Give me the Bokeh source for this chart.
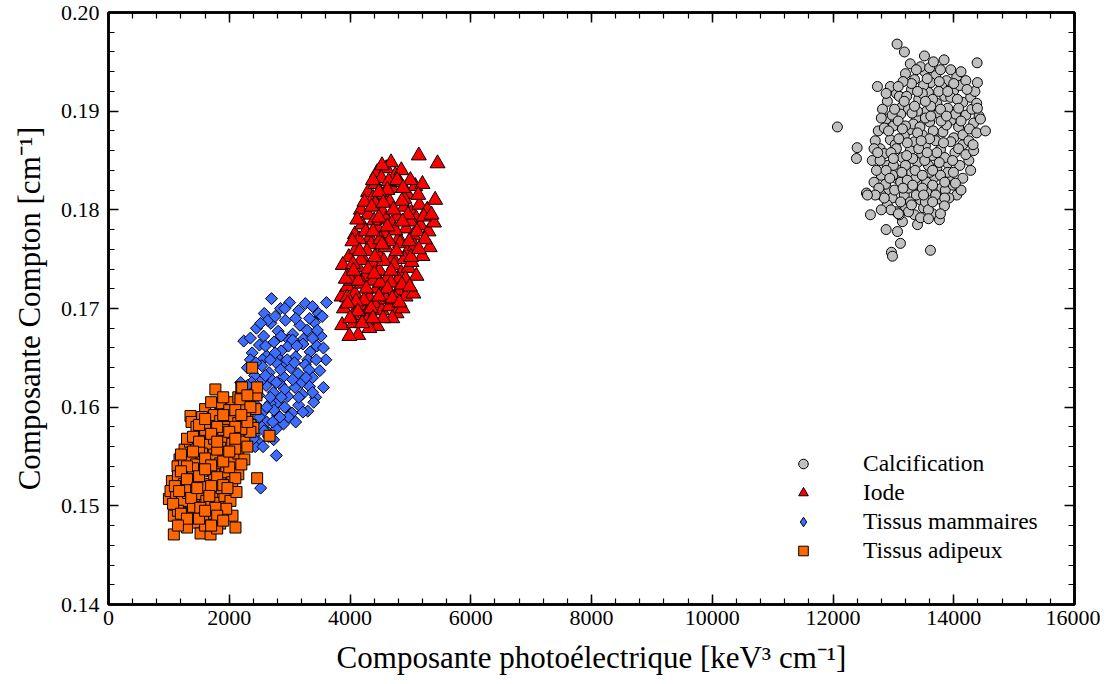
from bokeh.plotting import figure
from bokeh.models import (LinearAxis, SingleIntervalTicker, PrintfTickFormatter, Range1d,
                          CustomJSTickFormatter, LegendItem, Legend)
from bokeh.embed import file_html
from bokeh.resources import INLINE

# ---- data (x: photoelectric component, y: Compton component) ----
calc_pts = [
    (13200, 0.1938), (13350, 0.1932), (13520, 0.1940), (13700, 0.1936), (13880, 0.1931), (14050, 0.1935),
    (13450, 0.1945), (13620, 0.1929), (13950, 0.1942),
    (12900, 0.1910), (13050, 0.1918), (13150, 0.1905), (13300, 0.1922), (13420, 0.1912), (13580, 0.1919),
    (13720, 0.1908), (13850, 0.1915), (14000, 0.1921), (14150, 0.1909), (14280, 0.1914), (13250, 0.1902),
    (13500, 0.1926), (13900, 0.1903), (14100, 0.1926), (12820, 0.1902),
    (12750, 0.1880), (12880, 0.1892), (13000, 0.1885), (13120, 0.1897), (13260, 0.1881), (13380, 0.1893),
    (13480, 0.1876), (13600, 0.1889), (13750, 0.1898), (13820, 0.1879), (13960, 0.1891), (14080, 0.1884),
    (14200, 0.1896), (14330, 0.1888), (13180, 0.1875), (13550, 0.1900), (13680, 0.1872), (14000, 0.1873),
    (12950, 0.1871),
    (12650, 0.1850), (12780, 0.1862), (12900, 0.1845), (13030, 0.1866), (13150, 0.1853), (13280, 0.1860),
    (13400, 0.1848), (13530, 0.1865), (13650, 0.1855), (13780, 0.1861), (13900, 0.1847), (14020, 0.1858),
    (14150, 0.1866), (14250, 0.1850), (13350, 0.1869), (13720, 0.1842), (13100, 0.1840), (13950, 0.1869),
    (12850, 0.1857),
    (12680, 0.1828), (12800, 0.1835), (12920, 0.1820), (13050, 0.1832), (13180, 0.1815), (13300, 0.1838),
    (13420, 0.1825), (13550, 0.1818), (13680, 0.1833), (13800, 0.1822), (13920, 0.1830), (14050, 0.1815),
    (13250, 0.1822), (13600, 0.1838), (12980, 0.1812), (13750, 0.1811), (13450, 0.1810),
    (12900, 0.1805), (13050, 0.1798), (13200, 0.1803), (13350, 0.1795), (13500, 0.1802), (13650, 0.1796),
    (13150, 0.1788), (13400, 0.1785),
    (13300, 0.1928), (13600, 0.1944), (13800, 0.1925), (14200, 0.1931), (13100, 0.1915), (13650, 0.1912),
    (13950, 0.1914), (14300, 0.1902), (12980, 0.1896), (13330, 0.1887), (13530, 0.1893), (13880, 0.1886),
    (14150, 0.1876), (12850, 0.1883), (13050, 0.1862), (13230, 0.1868), (13470, 0.1857), (13850, 0.1853),
    (14100, 0.1845), (12720, 0.1840), (13200, 0.1845), (13580, 0.1845), (13900, 0.1838), (12870, 0.1826),
    (13120, 0.1828), (13370, 0.1832), (13860, 0.1820), (13000, 0.1845), (13700, 0.1870), (13400, 0.1900),
    (14250, 0.1870), (12800, 0.1815), (13280, 0.1808), (13550, 0.1828),
    (13280, 0.1948), (13780, 0.1942), (14120, 0.1940), (13160, 0.1930),
    (12950, 0.1925), (13220, 0.1915), (13480, 0.1918), (13750, 0.1920), (14060, 0.1912), (14350, 0.1920),
    (13620, 0.1905),
    (12800, 0.1893), (13080, 0.1890), (13310, 0.1898), (13440, 0.1884), (13660, 0.1880), (13790, 0.1890),
    (14030, 0.1897), (14260, 0.1882), (14420, 0.1895), (13200, 0.1885),
    (12700, 0.1870), (12960, 0.1858), (13090, 0.1872), (13320, 0.1852), (13420, 0.1862), (13600, 0.1872),
    (13720, 0.1858), (13830, 0.1868), (14080, 0.1862), (14200, 0.1856), (14330, 0.1860), (13520, 0.1850),
    (12780, 0.1850),
    (12760, 0.1822), (12990, 0.1835), (13140, 0.1838), (13360, 0.1840), (13480, 0.1835), (13650, 0.1825),
    (13780, 0.1835), (13990, 0.1825), (14150, 0.1832), (13230, 0.1830), (12880, 0.1840),
    (12850, 0.1812), (13020, 0.1820), (13380, 0.1815), (13530, 0.1808), (13700, 0.1815), (13920, 0.1812),
    (13120, 0.1808), (13250, 0.1798), (13580, 0.1800), (13450, 0.1792),
    (13380, 0.1942), (13560, 0.1933), (13760, 0.1930), (14000, 0.1928), (13080, 0.1925), (13400, 0.1920),
    (13900, 0.1920), (14220, 0.1922), (12880, 0.1918),
    (13180, 0.1910), (13530, 0.1910), (13780, 0.1902), (14080, 0.1903), (14380, 0.1908), (13020, 0.1902),
    (13350, 0.1905),
    (12920, 0.1880), (13150, 0.1882), (13400, 0.1878), (13620, 0.1895), (13880, 0.1895), (14120, 0.1890),
    (14380, 0.1878), (12680, 0.1862),
    (13000, 0.1852), (13220, 0.1855), (13460, 0.1870), (13560, 0.1858), (13760, 0.1848), (13980, 0.1850),
    (14280, 0.1840), (12740, 0.1858),
    (12700, 0.1815), (12940, 0.1832), (13160, 0.1822), (13320, 0.1825), (13650, 0.1840), (13850, 0.1828),
    (14120, 0.1820), (13480, 0.1822),
    (12960, 0.1800), (13300, 0.1805), (13650, 0.1808), (13850, 0.1812), (13500, 0.1815), (12800, 0.1800),
    (13100, 0.1795),
    (13062, 0.1968), (13183, 0.1960), (13515, 0.1956), (13664, 0.1950), (13840, 0.1952), (14387, 0.1949),
    (12073, 0.1884), (14392, 0.1929), (14525, 0.1880), (12400, 0.1863), (12388, 0.1852), (12736, 0.1925),
    (12620, 0.1795), (12880, 0.1780), (13068, 0.1778), (13117, 0.1766), (12968, 0.1757), (12985, 0.1753),
    (13614, 0.1759), (12554, 0.1817), (12570, 0.1815), (13084, 0.1796), (13581, 0.1791), (13763, 0.1790),
    (13846, 0.1804), (13780, 0.1796), (14028, 0.1827), (13995, 0.1838), (14320, 0.1866), (14442, 0.1892),
    (14392, 0.1903),
]

iode_pts = [
    (4450, 0.1838), (4600, 0.1842), (4750, 0.1835), (4680, 0.1848), (4520, 0.1832), (4850, 0.1840),
    (5140, 0.1855), (5450, 0.1847),
    (4300, 0.1818), (4420, 0.1826), (4560, 0.1815), (4700, 0.1822), (4820, 0.1828), (4950, 0.1816),
    (5080, 0.1824), (5200, 0.1826), (4380, 0.1812), (4640, 0.1829), (4900, 0.1811),
    (4180, 0.1800), (4300, 0.1795), (4420, 0.1806), (4540, 0.1798), (4660, 0.1808), (4780, 0.1793),
    (4900, 0.1803), (5020, 0.1797), (5150, 0.1805), (5280, 0.1800), (5410, 0.1810), (4240, 0.1808),
    (4600, 0.1790), (4860, 0.1809), (5100, 0.1791),
    (4080, 0.1775), (4200, 0.1785), (4330, 0.1772), (4450, 0.1782), (4570, 0.1776), (4690, 0.1786),
    (4810, 0.1771), (4930, 0.1781), (5050, 0.1774), (5170, 0.1784), (5300, 0.1778), (5390, 0.1787),
    (4150, 0.1770), (4400, 0.1789), (4750, 0.1779), (5000, 0.1788),
    (3980, 0.1752), (4100, 0.1760), (4220, 0.1750), (4350, 0.1765), (4470, 0.1755), (4590, 0.1762),
    (4710, 0.1751), (4830, 0.1766), (4950, 0.1757), (5070, 0.1763), (5200, 0.1753), (5320, 0.1762),
    (4040, 0.1768), (4650, 0.1768), (4280, 0.1758), (4900, 0.1750),
    (3880, 0.1744), (4000, 0.1735), (4130, 0.1742), (4250, 0.1732), (4370, 0.1746), (4490, 0.1738),
    (4610, 0.1730), (4730, 0.1744), (4850, 0.1736), (4970, 0.1741), (5100, 0.1733), (4180, 0.1749),
    (4560, 0.1748), (4800, 0.1729), (5020, 0.1747),
    (3860, 0.1712), (3960, 0.1722), (4080, 0.1715), (4200, 0.1725), (4320, 0.1711), (4440, 0.1720),
    (4560, 0.1714), (4680, 0.1726), (4800, 0.1718), (4920, 0.1712), (5050, 0.1715), (4020, 0.1728),
    (4380, 0.1728), (4750, 0.1710), (3953, 0.1711),
    (3900, 0.1700), (4050, 0.1693), (4170, 0.1703), (4290, 0.1696), (4410, 0.1705), (4530, 0.1698),
    (4650, 0.1702), (4770, 0.1695), (4870, 0.1700), (4230, 0.1708), (4600, 0.1709), (4100, 0.1707),
    (3870, 0.1683), (4060, 0.1685), (4135, 0.1673), (4450, 0.1682), (3990, 0.1672), (4280, 0.1688),
    (4320, 0.1680), (4700, 0.1690),
    (4530, 0.1845), (4380, 0.1830), (4780, 0.1830), (5000, 0.1830), (4620, 0.1820), (4480, 0.1818),
    (4880, 0.1822), (5130, 0.1815),
    (4360, 0.1803), (4480, 0.1792), (4720, 0.1800), (4960, 0.1795), (5220, 0.1793), (4120, 0.1790),
    (5350, 0.1795), (4550, 0.1807),
    (4260, 0.1778), (4500, 0.1770), (4620, 0.1783), (4870, 0.1788), (5110, 0.1778), (5240, 0.1770),
    (4380, 0.1778), (4980, 0.1768),
    (4050, 0.1745), (4160, 0.1758), (4410, 0.1752), (4530, 0.1765), (4770, 0.1758), (5010, 0.1752),
    (5140, 0.1760), (4300, 0.1740), (4680, 0.1738), (4920, 0.1730),
    (3930, 0.1730), (4140, 0.1728), (4270, 0.1720), (4500, 0.1726), (4620, 0.1720), (4860, 0.1724),
    (4990, 0.1722), (4060, 0.1738), (4400, 0.1735),
    (3960, 0.1705), (4130, 0.1697), (4350, 0.1700), (4480, 0.1712), (4700, 0.1710), (4820, 0.1706),
    (4000, 0.1690), (4200, 0.1685), (4550, 0.1690), (4380, 0.1690),
]

mamm_pts = [
    (2700, 0.1710), (2850, 0.1700), (3000, 0.1706), (3260, 0.1705), (3480, 0.1695), (3610, 0.1706),
    (2580, 0.1695), (3150, 0.1698), (3380, 0.1702),
    (2450, 0.1680), (2570, 0.1672), (2690, 0.1685), (2810, 0.1677), (2930, 0.1688), (3050, 0.1674),
    (3170, 0.1683), (3290, 0.1678), (3410, 0.1686), (3520, 0.1672), (2640, 0.1688), (2990, 0.1668),
    (3230, 0.1669), (3460, 0.1678), (2240, 0.1667),
    (2380, 0.1655), (2500, 0.1663), (2620, 0.1652), (2740, 0.1666), (2860, 0.1657), (2980, 0.1662),
    (3100, 0.1651), (3220, 0.1664), (3340, 0.1656), (3450, 0.1662), (2550, 0.1648), (2800, 0.1650),
    (3050, 0.1668), (3300, 0.1648), (2920, 0.1646),
    (2300, 0.1640), (2420, 0.1632), (2540, 0.1642), (2660, 0.1635), (2780, 0.1645), (2900, 0.1631),
    (3020, 0.1640), (3140, 0.1634), (3260, 0.1643), (3380, 0.1630), (3500, 0.1637), (2350, 0.1648),
    (2700, 0.1628), (2960, 0.1648), (3200, 0.1625), (3600, 0.1648),
    (2190, 0.1625), (2250, 0.1618), (2370, 0.1625), (2490, 0.1612), (2610, 0.1622), (2730, 0.1615),
    (2850, 0.1623), (2970, 0.1611), (3090, 0.1620), (3210, 0.1613), (3330, 0.1621), (3430, 0.1610),
    (2550, 0.1628), (2800, 0.1605), (3050, 0.1628), (3560, 0.1620),
    (2200, 0.1600), (2320, 0.1593), (2440, 0.1602), (2560, 0.1595), (2680, 0.1604), (2800, 0.1592),
    (2920, 0.1600), (3040, 0.1594), (3150, 0.1602), (3300, 0.1596), (2620, 0.1585), (2900, 0.1583),
    (3400, 0.1605),
    (2300, 0.1578), (2420, 0.1572), (2540, 0.1580), (2660, 0.1574), (2780, 0.1578), (2480, 0.1565),
    (2650, 0.1570), (2735, 0.1567),
    (2520, 0.1518), (2780, 0.1551), (2430, 0.1560),
    (2760, 0.1692), (2920, 0.1700), (3100, 0.1690), (3330, 0.1690), (3540, 0.1692), (2520, 0.1685),
    (2350, 0.1670), (2600, 0.1662), (2860, 0.1672), (3120, 0.1662), (3380, 0.1670), (3560, 0.1660),
    (2760, 0.1655),
    (2440, 0.1645), (2680, 0.1648), (2850, 0.1638), (3080, 0.1645), (3320, 0.1638), (3440, 0.1648),
    (2600, 0.1632),
    (2300, 0.1622), (2440, 0.1618), (2680, 0.1610), (2920, 0.1618), (3150, 0.1610), (3380, 0.1615),
    (2780, 0.1625), (3270, 0.1630),
    (2260, 0.1608), (2380, 0.1600), (2500, 0.1590), (2740, 0.1597), (2980, 0.1590), (3220, 0.1595),
    (2620, 0.1600), (2860, 0.1610),
    (2360, 0.1585), (2580, 0.1576), (2720, 0.1585), (2840, 0.1590), (3100, 0.1585), (2400, 0.1568),
    (2560, 0.1560),
]

adip_pts = [
    (1770, 0.1618), (2380, 0.1640), (1950, 0.1600), (2050, 0.1605), (2150, 0.1610), (2250, 0.1602),
    (1850, 0.1604), (2200, 0.1620), (1600, 0.1598), (2450, 0.1612), (2214, 0.1620), (2462, 0.1620),
    (2186, 0.1608), (2435, 0.1598), (1358, 0.1591),
    (1375, 0.1585), (1457, 0.1580), (1550, 0.1590), (1650, 0.1583), (1750, 0.1592), (1850, 0.1586),
    (1950, 0.1580), (2050, 0.1591), (2150, 0.1584), (2260, 0.1590), (2350, 0.1582), (1700, 0.1578),
    (2000, 0.1597), (2400, 0.1579),
    (1260, 0.1557), (1350, 0.1565), (1450, 0.1560), (1550, 0.1570), (1650, 0.1562), (1750, 0.1568),
    (1850, 0.1560), (1950, 0.1570), (2050, 0.1563), (2150, 0.1572), (2250, 0.1565), (2350, 0.1575),
    (2667, 0.1571), (1600, 0.1577), (1900, 0.1577), (2200, 0.1578),
    (1176, 0.1547), (1143, 0.1540), (1250, 0.1545), (1350, 0.1550), (1450, 0.1542), (1550, 0.1553),
    (1650, 0.1545), (1750, 0.1552), (1850, 0.1543), (1950, 0.1551), (2050, 0.1544), (2150, 0.1553),
    (2250, 0.1547), (1500, 0.1558), (1800, 0.1557), (2100, 0.1558),
    (1050, 0.1525), (1150, 0.1530), (1250, 0.1522), (1350, 0.1533), (1450, 0.1525), (1550, 0.1535),
    (1650, 0.1522), (1750, 0.1532), (1850, 0.1525), (1950, 0.1534), (2050, 0.1524), (2150, 0.1532),
    (2462, 0.1528), (1400, 0.1538), (1700, 0.1539), (2000, 0.1539),
    (1000, 0.1507), (1027, 0.1515), (1120, 0.1510), (1220, 0.1505), (1320, 0.1513), (1420, 0.1503),
    (1520, 0.1512), (1620, 0.1505), (1720, 0.1514), (1820, 0.1503), (1920, 0.1510), (2020, 0.1505),
    (2120, 0.1514), (1270, 0.1519), (1570, 0.1519), (1870, 0.1518),
    (1082, 0.1490), (1150, 0.1495), (1250, 0.1485), (1350, 0.1493), (1450, 0.1483), (1550, 0.1490),
    (1650, 0.1484), (1750, 0.1492), (1850, 0.1482), (2054, 0.1490), (1950, 0.1497), (1400, 0.1499),
    (1082, 0.1471), (1300, 0.1478), (1525, 0.1472), (1690, 0.1471), (1800, 0.1477), (2103, 0.1478),
    (1600, 0.1480),
    (1900, 0.1610), (2100, 0.1597), (2300, 0.1612), (1700, 0.1605), (2350, 0.1600),
    (1500, 0.1582), (1600, 0.1588), (1800, 0.1580), (1900, 0.1592), (2100, 0.1580), (2300, 0.1585),
    (2200, 0.1592),
    (1300, 0.1568), (1400, 0.1570), (1500, 0.1565), (1700, 0.1573), (1800, 0.1565), (2000, 0.1575),
    (2100, 0.1568), (2300, 0.1560),
    (1200, 0.1552), (1300, 0.1540), (1400, 0.1555), (1600, 0.1548), (1700, 0.1541), (1900, 0.1545),
    (2000, 0.1555), (2200, 0.1542),
    (1100, 0.1520), (1200, 0.1535), (1300, 0.1527), (1500, 0.1530), (1600, 0.1537), (1800, 0.1529),
    (1900, 0.1521), (2100, 0.1528), (1700, 0.1520),
    (1070, 0.1502), (1170, 0.1515), (1370, 0.1508), (1470, 0.1518), (1670, 0.1510), (1770, 0.1498),
    (1970, 0.1518), (1520, 0.1498),
    (1200, 0.1492), (1300, 0.1487), (1500, 0.1487), (1600, 0.1495), (1800, 0.1490), (1700, 0.1480),
    (1150, 0.1480), (1900, 0.1485),
]

calc_x = [v[0] for v in calc_pts]
calc_y = [v[1] for v in calc_pts]
iode_x = [v[0] for v in iode_pts]
iode_y = [v[1] for v in iode_pts]
mamm_x = [v[0] for v in mamm_pts]
mamm_y = [v[1] for v in mamm_pts]
adip_x = [v[0] for v in adip_pts]
adip_y = [v[1] for v in adip_pts]

series_names = ["Calcification", "Iode", "Tissus mammaires", "Tissus adipeux"]
x_label = "Composante photoélectrique [keV³ cm⁻¹]"
y_label = "Composante Compton [cm⁻¹]"

SERIF = "Liberation Serif"

p = figure(frame_width=966, frame_height=592,
           x_range=Range1d(0, 16000), y_range=Range1d(0.14, 0.20),
           output_backend="svg", toolbar_location=None,
           min_border_left=108, min_border_top=12, min_border_right=26, min_border_bottom=76)

p.xgrid.visible = False
p.ygrid.visible = False
p.outline_line_color = "black"
p.outline_line_width = 2.5
p.background_fill_color = "white"
p.border_fill_color = "white"


def style_axis(ax, show_labels):
    ax.axis_line_width = 2.5
    ax.axis_line_color = "black"
    ax.major_tick_in = 10
    ax.major_tick_out = 0
    ax.minor_tick_in = 6
    ax.minor_tick_out = 0
    ax.major_tick_line_width = 1.5
    ax.minor_tick_line_width = 1.2
    ax.major_tick_line_color = "black"
    ax.minor_tick_line_color = "black"
    if show_labels:
        ax.major_label_text_font = SERIF
        ax.major_label_text_font_size = "22px"
        ax.major_label_text_color = "black"
        ax.axis_label_text_font = SERIF
        ax.axis_label_text_font_size = "31px"
        ax.axis_label_text_font_style = "normal"
        ax.axis_label_text_color = "black"
    else:
        ax.formatter = CustomJSTickFormatter(code="return ''")
        ax.major_label_standoff = 0
        ax.axis_label = None


xa = p.xaxis[0]
xa.ticker = SingleIntervalTicker(interval=2000, num_minor_ticks=5)
xa.formatter = PrintfTickFormatter(format="%d")
xa.axis_label = x_label
xa.major_label_standoff = 6
xa.axis_label_standoff = 12
style_axis(xa, True)

ya = p.yaxis[0]
ya.ticker = SingleIntervalTicker(interval=0.01, num_minor_ticks=5)
ya.formatter = PrintfTickFormatter(format="%.2f")
ya.axis_label = y_label
ya.major_label_standoff = 9
ya.axis_label_standoff = 11
style_axis(ya, True)

top = LinearAxis(ticker=SingleIntervalTicker(interval=2000, num_minor_ticks=5))
style_axis(top, False)
p.add_layout(top, "above")
right = LinearAxis(ticker=SingleIntervalTicker(interval=0.01, num_minor_ticks=5))
style_axis(right, False)
p.add_layout(right, "right")

r_calc = p.scatter(calc_x, calc_y, marker="circle", size=10, fill_color="#c0c0c0",
                   line_color="black", line_width=1)
r_iode = p.scatter(iode_x, iode_y, marker="triangle", size=15, fill_color="#ff0000",
                   line_color="black", line_width=1)
# plain diamonds (hidden under the rotated squares) give the legend its diamond glyph
r_mamm_leg = p.scatter(mamm_x, mamm_y, marker="diamond", size=10, fill_color="#3d6dff",
                       line_color="black", line_width=1)
r_mamm = p.scatter(mamm_x, mamm_y, marker="square", angle=0.7854, size=8.5, fill_color="#3d6dff",
                   line_color="black", line_width=1)
r_adip = p.scatter(adip_x, adip_y, marker="square", size=11, fill_color="#ff6600",
                   line_color="black", line_width=1)

lg = Legend(items=[
    LegendItem(label=series_names[0], renderers=[r_calc]),
    LegendItem(label=series_names[1], renderers=[r_iode]),
    LegendItem(label=series_names[2], renderers=[r_mamm_leg]),
    LegendItem(label=series_names[3], renderers=[r_adip]),
])
lg.location = (683, 39)
lg.border_line_color = None
lg.background_fill_alpha = 0
lg.padding = 0
lg.margin = 0
lg.spacing = 0
lg.glyph_width = 24
lg.glyph_height = 29
lg.label_height = 29
lg.label_standoff = 48
lg.label_text_font = SERIF
lg.label_text_font_size = "23.5px"
lg.label_text_color = "black"
p.add_layout(lg, "center")

open("out.html", "w").write(file_html(p, INLINE))
